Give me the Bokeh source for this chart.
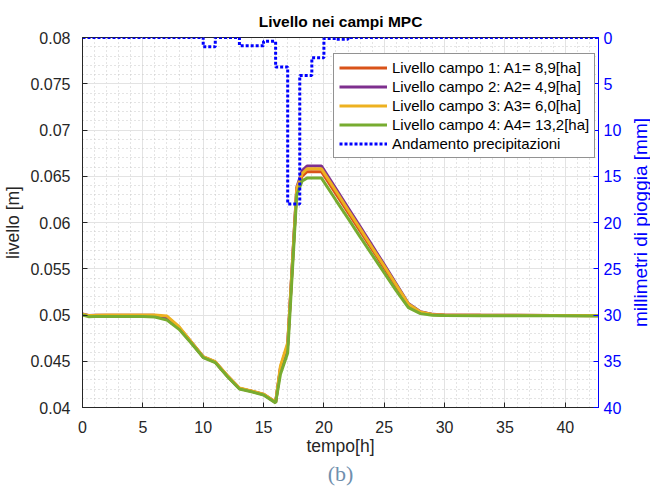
from bokeh.plotting import figure
from bokeh.layouts import row
from bokeh.models import (Range1d, LinearAxis, FixedTicker, CustomJSTickFormatter,
                          Legend, LegendItem, Title)
from bokeh.embed import file_html
from bokeh.resources import INLINE

# --- data -----------------------------------------------------------------
tempo = [0, 0.5, 1, 2, 3, 4, 5, 6, 7, 8, 9, 10, 11, 12, 13, 14, 15, 16, 16.4, 17,
         17.75, 18.2, 18.6, 19.8, 21, 22, 23, 24, 25, 26, 27, 28, 29, 30, 33, 36, 39, 42.75]

campo1 = [0.05005, 0.04990, 0.04990, 0.04992, 0.04992, 0.04992, 0.04992, 0.04988, 0.04965,
          0.04860, 0.04705, 0.04545, 0.04490, 0.04340, 0.04205, 0.04175, 0.04140, 0.04055,
          0.04420, 0.04670, 0.06360, 0.06500, 0.06550, 0.06550, 0.06310, 0.06110, 0.05910,
          0.05710, 0.05510, 0.05310, 0.05110, 0.05030, 0.05005, 0.04998, 0.04996, 0.04995,
          0.04994, 0.04993]

campo2 = [0.05010, 0.04995, 0.04996, 0.04998, 0.04998, 0.04998, 0.04998, 0.04996, 0.04975,
          0.04865, 0.04708, 0.04548, 0.04492, 0.04342, 0.04207, 0.04177, 0.04142, 0.04057,
          0.04430, 0.04680, 0.06380, 0.06560, 0.06610, 0.06610, 0.06365, 0.06160, 0.05955,
          0.05750, 0.05545, 0.05335, 0.05125, 0.05035, 0.05007, 0.04999, 0.04997, 0.04996,
          0.04995, 0.04994]

campo3 = [0.05008, 0.04995, 0.04996, 0.04999, 0.04999, 0.04999, 0.04999, 0.04999, 0.04988,
          0.04875, 0.04712, 0.04550, 0.04495, 0.04345, 0.04210, 0.04180, 0.04145, 0.04060,
          0.04450, 0.04700, 0.06370, 0.06530, 0.06580, 0.06580, 0.06340, 0.06135, 0.05935,
          0.05730, 0.05530, 0.05325, 0.05120, 0.05033, 0.05006, 0.04999, 0.04997, 0.04996,
          0.04995, 0.04994]

campo4 = [0.05000, 0.04982, 0.04983, 0.04985, 0.04985, 0.04985, 0.04985, 0.04978, 0.04945,
          0.04845, 0.04698, 0.04540, 0.04485, 0.04335, 0.04200, 0.04170, 0.04135, 0.04050,
          0.04360, 0.04590, 0.06300, 0.06450, 0.06480, 0.06480, 0.06240, 0.06045, 0.05845,
          0.05650, 0.05455, 0.05260, 0.05080, 0.05015, 0.04998, 0.04994, 0.04993, 0.04992,
          0.04991, 0.04990]

# hourly rainfall [mm], each value holds from its hour to the next one
ore = list(range(0, 44))
pioggia = [0, 0, 0, 0, 0, 0, 0, 0, 0, 0,
           1.0, 0, 0, 0.9, 0.9, 0.4, 3.2, 18.0, 4.1, 2.2,
           0.1, 0.2, 0, 0, 0, 0, 0, 0, 0, 0,
           0, 0, 0, 0, 0, 0, 0, 0, 0, 0,
           0, 0, 0, 0]

etichette = ["Livello campo 1: A1= 8,9[ha]",
             "Livello campo 2: A2= 4,9[ha]",
             "Livello campo 3: A3= 6,0[ha]",
             "Livello campo 4: A4= 13,2[ha]",
             "Andamento precipitazioni"]
colori = ["#D95319", "#7E2F8E", "#EDB120", "#77AC30"]

x_ticks = [0, 5, 10, 15, 20, 25, 30, 35, 40]
y_ticks = [0.04, 0.045, 0.05, 0.055, 0.06, 0.065, 0.07, 0.075, 0.08]
mm_ticks = [0, 5, 10, 15, 20, 25, 30, 35, 40]

FONT = "Liberation Sans"
AXIS_GREY = "#262626"
BLUE = "#0000FF"
TICK_SIZE = "16px"
LABEL_SIZE = "17.5px"

# --- main figure ----------------------------------------------------------
p = figure(width=628, height=487, output_backend="svg", toolbar_location=None,
           x_range=Range1d(0, 42.75), y_range=Range1d(0.04, 0.08),
           min_border_left=80, min_border_right=30, min_border_top=37,
           min_border_bottom=80, background_fill_color="white",
           border_fill_color="white")
p.extra_y_ranges = {"pioggia": Range1d(start=40, end=0)}

p.title.text = "Livello nei campi MPC"
p.title.text_font = FONT
p.title.text_font_size = "15.5px"
p.title.text_font_style = "bold"
p.title.align = "center"
p.title.text_color = "black"
p.title.standoff = 16

p.outline_line_color = AXIS_GREY
p.outline_line_width = 1

# x axis
xa = p.xaxis[0]
xa.ticker = FixedTicker(ticks=x_ticks, minor_ticks=list(range(0, 43)))
xa.axis_label = "tempo[h]"
# left axis
ya = p.yaxis[0]
ya.ticker = FixedTicker(ticks=y_ticks,
                        minor_ticks=[round(0.04 + 0.001 * i, 3) for i in range(41)])
ya.formatter = CustomJSTickFormatter(code="return String(Math.round(tick*10000)/10000);")
ya.axis_label = "livello [m]"

for ax in (xa, ya):
    ax.axis_line_color = AXIS_GREY
    ax.major_tick_line_color = AXIS_GREY
    ax.major_tick_in = 5
    ax.major_tick_out = 0
    ax.minor_tick_line_color = None
    ax.major_label_text_font = FONT
    ax.major_label_text_font_size = TICK_SIZE
    ax.major_label_text_color = AXIS_GREY
    ax.axis_label_text_font = FONT
    ax.axis_label_text_font_size = LABEL_SIZE
    ax.axis_label_text_font_style = "normal"
    ax.axis_label_text_color = AXIS_GREY
xa.major_label_standoff = 9
xa.axis_label_standoff = 0
xa.axis_label_text_line_height = 1.0
ya.major_label_standoff = 8
ya.axis_label_standoff = 4

# right axis for rainfall (its title sits in the narrow strip on the right)
ra = LinearAxis(y_range_name="pioggia", ticker=FixedTicker(ticks=mm_ticks))
ra.axis_line_color = BLUE
ra.major_tick_line_color = BLUE
ra.major_tick_in = 5
ra.major_tick_out = 0
ra.minor_tick_line_color = None
ra.major_label_text_font = FONT
ra.major_label_text_font_size = TICK_SIZE
ra.major_label_text_color = BLUE
ra.major_label_standoff = 5
p.add_layout(ra, "right")

# grids
for g in (p.xgrid[0], p.ygrid[0]):
    g.grid_line_color = "#e3e3e3"
    g.grid_line_width = 1
    g.minor_grid_line_color = "#c8c8c8"
    g.minor_grid_line_dash = "1 3"
    g.minor_grid_line_width = 1

# --- glyphs ---------------------------------------------------------------
renderers = []
for serie, col in zip([campo1, campo2, campo3, campo4], colori):
    r = p.line(tempo, serie, line_color=col, line_width=3)
    renderers.append(r)

rp = p.step(ore, pioggia, mode="after", y_range_name="pioggia",
            line_color=BLUE, line_width=3, line_dash="3 2")
renderers.append(rp)

legend = Legend(items=[LegendItem(label=t, renderers=[r]) for t, r in zip(etichette, renderers)],
                location=(251, 249))
legend.label_text_font = FONT
legend.label_text_font_size = "15px"
legend.label_text_color = "black"
legend.glyph_width = 48
legend.glyph_height = 15
legend.label_height = 15
legend.spacing = 2
legend.padding = 5
legend.margin = 0
legend.label_standoff = 5
legend.border_line_color = AXIS_GREY
legend.border_line_width = 1
legend.background_fill_color = "white"
legend.background_fill_alpha = 1
p.add_layout(legend, "center")

# caption under the axis title
cap = Title(text="(b)", align="center", text_font="Liberation Serif",
            text_font_size="22px", text_font_style="normal", text_color="#6f8fae",
            standoff=0, text_line_height=0.65)
p.add_layout(cap, "below")

# --- narrow strip carrying the rainfall axis title, reading upwards --------
strip = figure(width=22, height=487, output_backend="svg", toolbar_location=None,
               x_axis_type=None, y_axis_type=None,
               min_border_left=0, min_border_right=0, min_border_top=37,
               min_border_bottom=80, background_fill_color="white",
               border_fill_color="white", outline_line_color=None)
strip.title = None
strip.add_layout(Title(text="millimetri di pioggia [mm]", align="center",
                       text_font=FONT, text_font_size="19px",
                       text_font_style="normal", text_color=BLUE, standoff=0),
                 "left")

layout = row(p, strip, spacing=0)
open("out.html", "w").write(file_html(layout, INLINE))
